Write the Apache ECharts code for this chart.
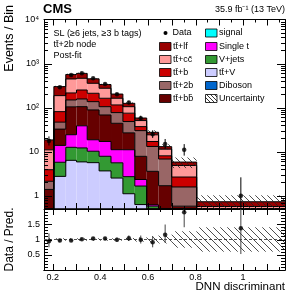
<!DOCTYPE html>
<html><head><meta charset="utf-8">
<script src="https://cdn.jsdelivr.net/npm/echarts@6/dist/echarts.min.js"></script>
<style>html,body{margin:0;padding:0;background:#fff}#c{width:291px;height:300px}</style>
</head><body><div id="c"></div>
<script>
// ---- data ----
const binEdges = [0.1635, 0.205, 0.255, 0.300, 0.345, 0.395, 0.445, 0.495, 0.545, 0.595, 0.645, 0.700, 0.805, 1.176];
const diboson = [0.01, 0.05, 0.08, 0.08, 0.06, 0.05, 0.04, 0.02, 0.01, 0.01, 0.0, 0.0, 0.0];
const signal  = [0.01, 0.05, 0.08, 0.08, 0.07, 0.06, 0.05, 0.04, 0.03, 0.02, 0.01, 0.01, 0.0];
const ttV     = [0.12, 2.65, 6.2, 5.7, 5.5, 3.55, 2.43, 1.05, 0.59, 0.45, 0.15, 0.07, 0.02];
const vJets   = [0.10, 3.0, 6.2, 6.3, 4.6, 4.2, 3.07, 1.6, 1.03, 0.10, 0.10, 0.05, 0.02];
const singleT = [0.15, 8.15, 11.7, 26.5, 8.4, 9.2, 5.5, 8.35, 0.68, 0.04, 0.05, 0.03, 0.01];
const ttbb    = [1.0, 18.6, 80, 66.5, 70, 51, 33, 15.7, 5.5, 2.96, 1.38, 0.42, 0.08];
const tt2b    = [0.74, 14.3, 45, 52, 48, 37, 33, 21.5, 22.2, 9.55, 5.12, 1.0, 0.12];
const ttb     = [1.77, 34.3, 66, 94, 75, 58, 38, 26.5, 7.0, 3.9, 1.25, 1.08, 0.12];
const ttcc    = [7.1, 106, 232, 212, 145, 112, 48, 30.3, 13.8, 7.1, 3.35, 2.21, 0.20];
const ttlf    = [7.5, 113, 118, 135, 93, 59, 40, 20, 7.2, 3.4, 1.6, 0.94, 0.16];
const dataObs = [17.5, 290, 548, 604, 463, 344, 201, 130, 57.5, 25, 15, 11, 1];
const relUnc  = [0.05, 0.04, 0.04, 0.04, 0.04, 0.04, 0.04, 0.05, 0.07, 0.11, 0.13, 0.27, 0.40];

const xLabelValues = [0.2, 0.4, 0.6, 0.8, 1.0];
const xMajorTicks = [0.2, 0.3, 0.4, 0.5, 0.6, 0.7, 0.8, 0.9, 1.0, 1.1];
const xMinorTicks = [0.25, 0.35, 0.45, 0.55, 0.65, 0.75, 0.85, 0.95, 1.05, 1.15];
const yMajorTicks = [1, 10, 100, 1000];
const yMinorTicks = [0.6,0.7,0.8,0.9, 2,3,4,5,6,7,8,9, 20,30,40,50,60,70,80,90, 200,300,400,500,600,700,800,900, 2000,3000,4000,5000,6000,7000,8000,9000];
const rMajorTicks = [0.5, 1, 1.5];
const rMinorTicks = [0.1,0.2,0.3,0.4,0.6,0.7,0.8,0.9,1.1,1.2,1.3,1.4,1.6,1.7,1.8,1.9];

const XMIN = binEdges[0], XMAX = binEdges[binEdges.length-1];
const YMIN = 0.5, YMAX = 10000, RMIN = 0, RMAX = 2;
const FONT = "'Liberation Sans', Arial, Helvetica, sans-serif";

const processes = [
  {name: 'Diboson', color: '#0066cc', values: diboson},
  {name: 'signal', color: '#00ffff', values: signal},
  {name: 'tt\u0304+V', color: '#ccccff', values: ttV},
  {name: 'V+jets', color: '#339933', values: vJets},
  {name: 'Single t', color: '#ff00ff', values: singleT},
  {name: 'tt\u0304+bb\u0304', color: '#660000', values: ttbb},
  {name: 'tt\u0304+2b', color: '#996666', values: tt2b},
  {name: 'tt\u0304+b', color: '#cc0000', values: ttb},
  {name: 'tt\u0304+cc\u0304', color: '#ff9999', values: ttcc},
  {name: 'tt\u0304+lf', color: '#990000', values: ttlf}
];
const nBins = binEdges.length - 1;
const centers = []; for (let i = 0; i < nBins; i++) centers.push((binEdges[i] + binEdges[i+1]) / 2);

const series = [];
let base = new Array(nBins).fill(0);
processes.forEach(p => {
  const data = [];
  for (let i = 0; i < nBins; i++) {
    const lo = base[i], hi = base[i] + p.values[i];
    const prev = i > 0 ? base[i-1] + p.values[i-1] : 0;
    data.push([binEdges[i], binEdges[i+1], lo, hi, prev]);
  }
  base = base.map((b, i) => b + p.values[i]);
  const color = p.color;
  series.push({
    type: 'custom', name: p.name, xAxisIndex: 0, yAxisIndex: 0, clip: true, silent: true,
    encode: {x: [0, 1], y: [3]}, data,
    renderItem(params, api) {
      const x0 = api.value(0), x1 = api.value(1), lo = api.value(2), hi = api.value(3), prev = api.value(4);
      const ylo = api.coord([x0, Math.max(lo, YMIN)])[1];
      const yhi = api.coord([x0, Math.max(hi, YMIN)])[1];
      const ypr = api.coord([x0, Math.max(prev, YMIN)])[1];
      const px0 = api.coord([x0, YMIN])[0], px1 = api.coord([x1, YMIN])[0];
      const ch = [];
      if (ylo - yhi > 0.01) ch.push({type: 'rect', z2: 0, shape: {x: px0, y: yhi, width: px1 - px0, height: ylo - yhi}, style: {fill: color}});
      ch.push({type: 'polyline', z2: 10, shape: {points: [[px0, ypr], [px0, yhi], [px1, yhi]]}, style: {stroke: '#000', lineWidth: 1, fill: null}});
      return {type: 'group', children: ch};
    }
  });
});
const total = base.slice();

function hatchLines(x0, y0, x1, y1, sp, style) {
  const out = [];
  const cStart = Math.ceil((y0 - x1) / sp) * sp;
  for (let c = cStart; c <= y1 - x0; c += sp) {
    const xa = Math.max(x0, y0 - c), xb = Math.min(x1, y1 - c);
    if (xb > xa) out.push({type: 'line', z2: 20, shape: {x1: xa, y1: xa + c, x2: xb, y2: xb + c}, style});
  }
  return out;
}
const hatchStyle = {stroke: '#222', lineWidth: 0.8};

series.push({
  type: 'custom', name: 'Uncertainty', xAxisIndex: 0, yAxisIndex: 0, clip: true, silent: true, z: 3,
  encode: {x: [0, 1], y: [3]},
  data: total.map((t, i) => [binEdges[i], binEdges[i+1], t * (1 - relUnc[i]), t * (1 + relUnc[i])]),
  renderItem(params, api) {
    const a = api.coord([api.value(0), Math.max(api.value(3), YMIN)]);
    const b = api.coord([api.value(1), Math.max(api.value(2), YMIN)]);
    return {type: 'group', children: hatchLines(a[0], a[1], b[0], b[1], 6, hatchStyle)};
  }
});

const errUp = dataObs.map(n => 0.5 + Math.sqrt(n + 0.25));
const errDn = dataObs.map(n => -0.5 + Math.sqrt(n + 0.25));
series.push({
  type: 'custom', xAxisIndex: 0, yAxisIndex: 0, clip: true, silent: true, z: 4,
  encode: {x: 0, y: 2},
  data: dataObs.map((n, i) => [centers[i], n - errDn[i], n + errUp[i]]),
  renderItem(params, api) {
    const a = api.coord([api.value(0), Math.max(api.value(1), YMIN * 0.5)]);
    const b = api.coord([api.value(0), api.value(2)]);
    return {type: 'line', shape: {x1: a[0], y1: a[1], x2: b[0], y2: b[1]}, style: {stroke: '#000', lineWidth: 1}};
  }
});
series.push({
  type: 'scatter', name: 'Data', xAxisIndex: 0, yAxisIndex: 0, z: 5, silent: true,
  symbol: 'circle', symbolSize: 4.5, itemStyle: {color: '#000'},
  data: dataObs.map((n, i) => [centers[i], n])
});

const ratio = dataObs.map((n, i) => n / total[i]);
series.push({
  type: 'custom', xAxisIndex: 2, yAxisIndex: 2, clip: true, silent: true, z: 3,
  encode: {x: [0, 1], y: [3]},
  data: relUnc.map((u, i) => [binEdges[i], binEdges[i+1], 1 - u, 1 + u]),
  renderItem(params, api) {
    const a = api.coord([api.value(0), api.value(3)]);
    const b = api.coord([api.value(1), api.value(2)]);
    return {type: 'group', children: hatchLines(a[0], a[1], b[0], b[1], 7, hatchStyle)};
  }
});
series.push({
  type: 'line', xAxisIndex: 2, yAxisIndex: 2, silent: true, symbol: 'none', z: 3,
  lineStyle: {color: '#555', width: 1, type: [3, 2]},
  data: [[XMIN, 1], [XMAX, 1]]
});
series.push({
  type: 'custom', xAxisIndex: 2, yAxisIndex: 2, clip: true, silent: true, z: 4,
  encode: {x: 0, y: 1},
  data: ratio.map((r, i) => [centers[i], r - errDn[i] / total[i], r + errUp[i] / total[i]]),
  renderItem(params, api) {
    const a = api.coord([api.value(0), api.value(1)]);
    const b = api.coord([api.value(0), api.value(2)]);
    return {type: 'line', shape: {x1: a[0], y1: a[1], x2: b[0], y2: b[1]}, style: {stroke: '#444', lineWidth: 1}};
  }
});
series.push({
  type: 'scatter', xAxisIndex: 2, yAxisIndex: 2, z: 5, silent: true,
  symbol: 'circle', symbolSize: 4.5, itemStyle: {color: '#000'},
  data: ratio.map((r, i) => [centers[i], r])
});

const sup = {2: '\u00b2', 3: '\u00b3', 4: '\u2074'};
const axisLineStyle = {show: true, lineStyle: {color: '#000', width: 1}};
const grids = [
  {left: 44, top: 19.5, width: 241, height: 189.5, containLabel: false, outerBoundsMode: 'none'},
  {left: 44, top: 209, width: 241, height: 61, containLabel: false, outerBoundsMode: 'none'}
];
const xAxes = [
  {gridIndex: 0, type: 'value', min: XMIN, max: XMAX, position: 'bottom', axisLine: axisLineStyle, axisTick: {show: false}, axisLabel: {show: false}, splitLine: {show: false}},
  {gridIndex: 0, type: 'value', min: XMIN, max: XMAX, position: 'top', axisLine: axisLineStyle, axisTick: {show: false}, axisLabel: {show: false}, splitLine: {show: false}},
  {gridIndex: 1, type: 'value', min: XMIN, max: XMAX, position: 'bottom', axisLine: axisLineStyle, axisTick: {show: false}, splitLine: {show: false},
    axisLabel: {customValues: xLabelValues, margin: 3, color: '#000', fontSize: 9, fontFamily: FONT,
      formatter: v => String(Math.round(v * 10) / 10)}},
  {gridIndex: 1, type: 'value', min: XMIN, max: XMAX, position: 'top', axisLine: axisLineStyle, axisTick: {show: false}, axisLabel: {show: false}, splitLine: {show: false}}
];
const yAxes = [
  {gridIndex: 0, type: 'log', logBase: 10, min: YMIN, max: YMAX, position: 'left', axisLine: axisLineStyle, axisTick: {show: false}, splitLine: {show: false},
    axisLabel: {showMinLabel: false, margin: 5, color: '#000', fontSize: 9, fontFamily: FONT,
      formatter: v => { const l = Math.log10(v), e = Math.round(l); if (Math.abs(l - e) > 0.01) return ''; return e === 0 ? '1' : e === 1 ? '10' : '10' + sup[e]; }}},
  {gridIndex: 0, type: 'log', logBase: 10, min: YMIN, max: YMAX, position: 'right', axisLine: axisLineStyle, axisTick: {show: false}, axisLabel: {show: false}, splitLine: {show: false}},
  {gridIndex: 1, type: 'value', min: RMIN, max: RMAX, interval: 0.5, position: 'left', axisLine: axisLineStyle, axisTick: {show: false}, splitLine: {show: false},
    axisLabel: {showMinLabel: false, showMaxLabel: false, margin: 4, color: '#000', fontSize: 9, fontFamily: FONT, formatter: v => String(v)}},
  {gridIndex: 1, type: 'value', min: RMIN, max: RMAX, interval: 0.5, position: 'right', axisLine: axisLineStyle, axisTick: {show: false}, axisLabel: {show: false}, splitLine: {show: false}}
];

// legend & texts
const txt = (x, y, text, extra) => ({type: 'text', x, y, silent: true, style: Object.assign({text, fill: '#000', fontSize: 9, fontFamily: FONT, verticalAlign: 'middle', align: 'left'}, extra || {})});
const graphics = [];
graphics.push(txt(43, 9, 'CMS', {fontSize: 13, fontWeight: 'bold'}));
graphics.push(txt(285, 10, '35.9 fb\u207b\u00b9 (13 TeV)', {align: 'right'}));
graphics.push(txt(53.5, 33.5, 'SL (\u22656 jets, \u22653 b tags)'));
graphics.push(txt(53.5, 44.5, 'tt\u0304+2b node'));
graphics.push(txt(53.5, 55.5, 'Post-fit'));
graphics.push({type: 'text', x: 10, y: 5, rotation: Math.PI / 2, silent: true, style: {text: 'Events / Bin', fill: '#000', fontSize: 12.5, fontFamily: FONT, align: 'right', verticalAlign: 'middle'}});
graphics.push({type: 'text', x: 9.5, y: 239.5, rotation: Math.PI / 2, silent: true, style: {text: 'Data / Pred.', fill: '#000', fontSize: 12, fontFamily: FONT, align: 'center', verticalAlign: 'middle'}});
graphics.push(txt(285, 287, 'DNN discriminant', {fontSize: 11.5, align: 'right'}));

const rowsY = [33, 46.5, 59.5, 72.5, 85.5, 98.5];
const byName = n => processes.find(p => p.name === n);
const col1 = ['tt\u0304+lf', 'tt\u0304+cc\u0304', 'tt\u0304+b', 'tt\u0304+2b', 'tt\u0304+bb\u0304'];
const col2 = ['signal', 'Single t', 'V+jets', 'tt\u0304+V', 'Diboson'];
graphics.push({type: 'circle', silent: true, shape: {cx: 165.5, cy: rowsY[0], r: 2}, style: {fill: '#000'}});
graphics.push(txt(172.5, rowsY[0], 'Data'));
col1.forEach((n, k) => {
  const y = rowsY[k + 1];
  graphics.push({type: 'rect', silent: true, shape: {x: 159.5, y: y - 4, width: 11.5, height: 8}, style: {fill: byName(n).color, stroke: '#000', lineWidth: 0.8}});
  graphics.push(txt(173, y, n));
});
col2.forEach((n, k) => {
  const y = rowsY[k];
  graphics.push({type: 'rect', silent: true, shape: {x: 205.5, y: y - 4, width: 11.5, height: 8}, style: {fill: byName(n).color, stroke: '#000', lineWidth: 0.8}});
  graphics.push(txt(219, y, n));
});
{
  const y = rowsY[5];
  graphics.push({type: 'rect', silent: true, shape: {x: 205.5, y: y - 4, width: 11.5, height: 8}, style: {fill: '#fff', stroke: '#000', lineWidth: 0.8}});
  hatchLines(205.5, y - 4, 217, y + 4, 4, {stroke: '#000', lineWidth: 0.8}).forEach(l => { l.silent = true; graphics.push(l); });
  graphics.push(txt(219, y, 'Uncertainty'));
}

const chart = echarts.init(document.getElementById('c'), null, {renderer: 'canvas'});
chart.setOption({
  animation: false,
  backgroundColor: '#fff',
  grid: grids,
  xAxis: xAxes,
  yAxis: yAxes,
  series,
  graphic: {elements: graphics}
});

// ROOT-style inside ticks on all four sides, placed through the chart's own axis scales
const tickEls = [];
const st = {stroke: '#000', lineWidth: 1};
const addLine = (x1, y1, x2, y2) => tickEls.push({type: 'line', silent: true, z: 20, shape: {x1, y1, x2, y2}, style: st});
function panelTicks(xi, yi, yLo, yHi, yMaj, yMin) {
  const px = v => Math.round(chart.convertToPixel({xAxisIndex: xi}, v)) + 0.5;
  const py = v => Math.round(chart.convertToPixel({yAxisIndex: yi}, v)) + 0.5;
  const L = chart.convertToPixel({xAxisIndex: xi}, XMIN), R = chart.convertToPixel({xAxisIndex: xi}, XMAX);
  const B = chart.convertToPixel({yAxisIndex: yi}, yLo), T = chart.convertToPixel({yAxisIndex: yi}, yHi);
  xMajorTicks.forEach(v => { const x = px(v); addLine(x, B, x, B - 6); addLine(x, T, x, T + 6); });
  xMinorTicks.forEach(v => { const x = px(v); addLine(x, B, x, B - 3); addLine(x, T, x, T + 3); });
  yMaj.forEach(v => { const y = py(v); addLine(L, y, L + 8, y); addLine(R, y, R - 8, y); });
  yMin.forEach(v => { const y = py(v); addLine(L, y, L + 4, y); addLine(R, y, R - 4, y); });
}
panelTicks(0, 0, YMIN, YMAX, yMajorTicks, yMinorTicks);
panelTicks(2, 2, RMIN, RMAX, rMajorTicks, rMinorTicks);
chart.setOption({graphic: {elements: graphics.concat(tickEls)}});
</script>
</body></html>
